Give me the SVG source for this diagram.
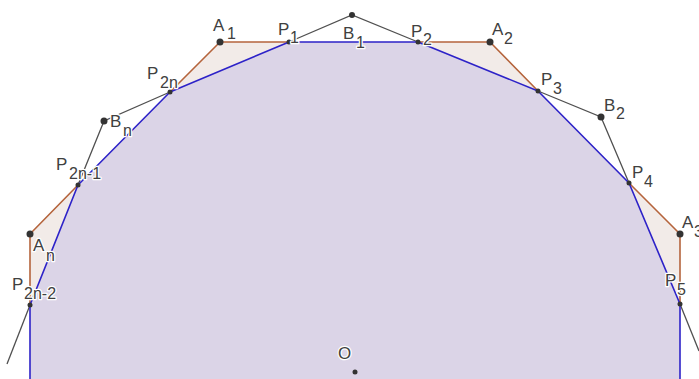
<svg xmlns="http://www.w3.org/2000/svg" width="699" height="379" viewBox="0 0 699 379">
<style>
.bg{fill:#ffffff}
.disk{fill:#dbd4e7;stroke:none}
.tri{fill:#f2ebe8;stroke:none}
.blue{fill:none;stroke:#2d22c8;stroke-width:1.6;stroke-linejoin:round}
.brown{fill:none;stroke:#b5643c;stroke-width:1.6;stroke-linejoin:round}
.gray{fill:none;stroke:#505050;stroke-width:1.3}
.pt{fill:#333333}
.lbl{font-family:"Liberation Sans",Arial,sans-serif;font-size:17px;fill:#404040;stroke:#ffffff;stroke-width:2.5;stroke-linejoin:round;paint-order:stroke}
.sub{font-size:16px}
</style>
<rect class="bg" x="0" y="0" width="699" height="379"/>
<g id="fills">
<polygon class="disk" points="30,379 30,305 78,185 170,92 289,42 418,42 538,91 629,183 680,304 680,379"/>
<polygon class="tri" points="170,92 220,42 289,42"/>
<polygon class="tri" points="418,42 490,42 538,91"/>
<polygon class="tri" points="629,183 680,234 680,304"/>
<polygon class="tri" points="78,185 30,234 30,305"/>
</g>
<g id="connectors">
<polyline class="gray" points="289,42 352,15 418,42"/>
<polyline class="gray" points="170,92 104,121 78,185"/>
<polyline class="gray" points="538,91 601,117 629,183"/>
<line class="gray" x1="680" y1="304" x2="699" y2="351"/>
<line class="gray" x1="30" y1="305" x2="7" y2="364"/>
<polyline class="brown" points="170,92 220,42 289,42"/>
<polyline class="brown" points="418,42 490,42 538,91"/>
<polyline class="brown" points="629,183 680,234 680,304"/>
<polyline class="brown" points="78,185 30,234 30,305"/>
<polyline class="blue" points="30,380 30,305 78,185 170,92 289,42 418,42 538,91 629,183 680,304 680,380"/>
</g>
<g id="A1"><circle class="pt" cx="220" cy="42" r="3.5"/><text class="lbl" x="213" y="31">A<tspan class="sub" x="227" y="39">1</tspan></text></g>
<g id="P1"><circle class="pt" cx="289" cy="42" r="2.5"/><text class="lbl" x="278" y="35">P<tspan class="sub" x="290" y="43">1</tspan></text></g>
<g id="B1"><circle class="pt" cx="352" cy="15" r="3"/><text class="lbl" x="343" y="39">B<tspan class="sub" x="356" y="48">1</tspan></text></g>
<g id="P2"><circle class="pt" cx="418" cy="42" r="2.5"/><text class="lbl" x="411" y="37">P<tspan class="sub" x="423" y="45">2</tspan></text></g>
<g id="A2"><circle class="pt" cx="490" cy="42" r="3.5"/><text class="lbl" x="492" y="35">A<tspan class="sub" x="504" y="44">2</tspan></text></g>
<g id="P3"><circle class="pt" cx="538" cy="91" r="2.5"/><text class="lbl" x="541" y="85">P<tspan class="sub" x="553" y="94">3</tspan></text></g>
<g id="B2"><circle class="pt" cx="601" cy="117" r="3.5"/><text class="lbl" x="604" y="111">B<tspan class="sub" x="616" y="119">2</tspan></text></g>
<g id="P4"><circle class="pt" cx="629" cy="183" r="2.5"/><text class="lbl" x="632" y="178">P<tspan class="sub" x="644" y="187">4</tspan></text></g>
<g id="A3"><circle class="pt" cx="680" cy="234" r="3.5"/><text class="lbl" x="682" y="228">A<tspan class="sub" x="694" y="237">3</tspan></text></g>
<g id="P5"><circle class="pt" cx="680" cy="304" r="2.5"/><text class="lbl" x="665" y="286">P<tspan class="sub" x="677" y="295">5</tspan></text></g>
<g id="P2n"><circle class="pt" cx="170" cy="92" r="2.5"/><text class="lbl" x="147" y="79">P<tspan class="sub" x="160" y="88">2n</tspan></text></g>
<g id="Bn"><circle class="pt" cx="104" cy="121" r="3.5"/><text class="lbl" x="110" y="127">B<tspan class="sub" x="123" y="136">n</tspan></text></g>
<g id="P2n-1"><circle class="pt" cx="78" cy="185" r="2.5"/><text class="lbl" x="56" y="170">P<tspan class="sub" x="69" y="179">2n-1</tspan></text></g>
<g id="An"><circle class="pt" cx="30" cy="234" r="3.5"/><text class="lbl" x="33" y="251">A<tspan class="sub" x="46" y="261">n</tspan></text></g>
<g id="P2n-2"><circle class="pt" cx="30" cy="305" r="2.5"/><text class="lbl" x="12" y="290">P<tspan class="sub" x="24" y="299">2n-2</tspan></text></g>
<g id="O"><circle class="pt" cx="355" cy="372" r="2.5"/><text class="lbl" x="338" y="359">O</text></g>
</svg>
